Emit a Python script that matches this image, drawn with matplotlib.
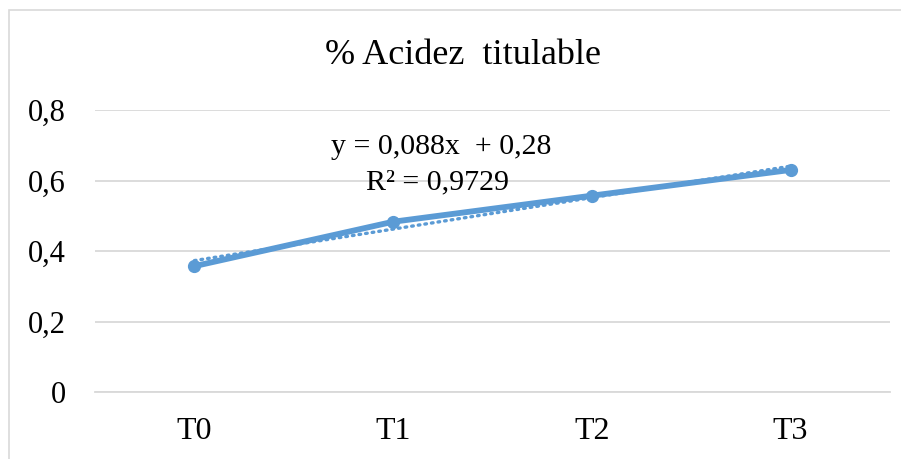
import numpy as np
import matplotlib.pyplot as plt
from matplotlib.patches import Rectangle

categorias = ['T0', 'T1', 'T2', 'T3']
acidez = [0.357, 0.483, 0.557, 0.630]
yticks = [0, 0.2, 0.4, 0.6, 0.8]
yticklabels = ['0', '0,2', '0,4', '0,6', '0,8']

plt.rcParams['font.family'] = ['Liberation Serif', 'DejaVu Serif']
azul = '#5B9BD5'

fig = plt.figure(figsize=(9.01, 4.59), dpi=100)
# borde del grafico (estilo excel), solo se ve arriba y a la izquierda
fig.patches.append(Rectangle((9/901, -0.2), 1.5, 1 - 10/459 + 0.2, transform=fig.transFigure,
                             fill=False, edgecolor='#d9d9d9', linewidth=1.2))
ax = fig.add_axes([95/901, 1 - 392/459, (890 - 95)/901, (392 - 110)/459])

x = np.arange(len(categorias))
ax.plot(x, acidez, color=azul, lw=4.2, marker='o', ms=8.5, solid_capstyle='round', zorder=3)

# linea de tendencia lineal
m, b = np.polyfit(x + 1, acidez, 1)
ax.plot(x, m*(x + 1) + b, color=azul, lw=2.4, ls=(0, (0.5, 1.5)), dash_capstyle='round', zorder=2)

ax.set_xlim(-0.5, 3.5)
ax.set_ylim(0, 0.8)
ax.set_xticks(x)
ax.set_xticklabels(categorias, fontsize=23)
ax.set_yticks(yticks)
ax.set_yticklabels(yticklabels, fontsize=22)
ax.tick_params(length=0)
ax.tick_params(axis='y', pad=21)
ax.tick_params(axis='x', pad=18)
ax.grid(axis='y', color='#d9d9d9', lw=1.3)
ax.set_axisbelow(True)
for s in ax.spines.values():
    s.set_visible(False)
ax.spines['bottom'].set_visible(True)
ax.spines['bottom'].set_color('#d9d9d9')
ax.spines['bottom'].set_linewidth(1.3)

fig.text(463/901, 1 - 55/459, '% Acidez  titulable', ha='center', va='center', fontsize=26)
fig.text(441/901, 1 - 147/459, 'y = 0,088x  + 0,28', ha='center', va='center', fontsize=21.5)
fig.text(437/901, 1 - 182/459, 'R² = 0,9729', ha='center', va='center', fontsize=21.5)

fig.savefig('out.png', dpi=100)
